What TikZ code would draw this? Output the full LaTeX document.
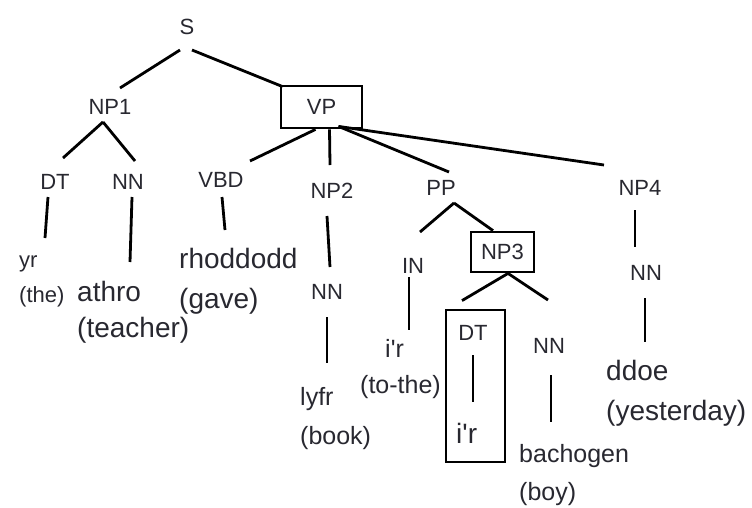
\documentclass[tikz,border=0pt]{standalone}
\usepackage{fontspec}
\setmainfont{Liberation Sans}
\usepackage{tikz}
\usetikzlibrary{positioning}
\definecolor{ink}{RGB}{40,40,48}

\begin{document}
\begin{tikzpicture}[x=1pt, y=-1pt,
    cat/.style={font=\fontsize{22}{26}\selectfont, inner sep=0pt, text=ink},
    word/.style={font=\fontsize{28}{34}\selectfont, inner sep=0pt, anchor=base west, text=ink},
    midword/.style={font=\fontsize{25}{30}\selectfont, inner sep=0pt, anchor=base west, text=ink},
    smallword/.style={font=\fontsize{22}{26}\selectfont, inner sep=0pt, anchor=base west, text=ink},
    box/.style={draw, line width=2.8pt, inner sep=0pt},
    branch/.style={line width=2.8pt}]
    \useasboundingbox (0,0) rectangle (752,507);

    % categories
    \node[cat] (S) at (187,27) {S};
    \node[cat] (NP1) at (110,107) {NP1};
    \node[cat, box, minimum width=81pt, minimum height=42pt] (VP) at (321.5,107) {VP};
    \node[cat] (DT1) at (55,182) {DT};
    \node[cat] (NN1) at (128,182) {NN};
    \node[cat] (VBD) at (221,180) {VBD};
    \node[cat] (NP2) at (332,191) {NP2};
    \node[cat] (PP) at (441,188) {PP};
    \node[cat] (NP4) at (640,188) {NP4};
    \node[cat] (NN2) at (327,292) {NN};
    \node[cat] (IN) at (413,266) {IN};
    \node[cat, box, minimum width=63pt, minimum height=40pt] (NP3) at (502.5,252) {NP3};
    \node[box, minimum width=59pt, minimum height=152pt] (det) at (475.5,386) {};
    \node[cat] (DT2) at (473,333) {DT};
    \node[cat] (NN3) at (549,346) {NN};
    \node[cat] (NN4) at (646,273) {NN};

    % words and glosses
    \node[smallword] (yr) at (19,267) {yr};
    \node[smallword] (the) at (19,302) {(the)};
    \node[word] (athro) at (77,301) {athro};
    \node[word] (teacher) at (77,337) {(teacher)};
    \node[word] (rhoddodd) at (179,268) {rhoddodd};
    \node[word] (gave) at (179,308) {(gave)};
    \node[midword] (lyfr) at (300,405) {lyfr};
    \node[midword] (book) at (300,444) {(book)};
    \node[midword] (ir1) at (385,357) {i\textquotesingle r};
    \node[midword] (tothe) at (360,393) {(to-the)};
    \node[word] (ir2) at (456,443) {i\textquotesingle r};
    \node[midword] (bachogen) at (519,462) {bachogen};
    \node[midword] (boy) at (519,500) {(boy)};
    \node[word] (ddoe) at (606,380) {ddoe};
    \node[word] (yesterday) at (606,420) {(yesterday)};

    % branches
    \draw[branch] ([shift={(-7,23)}]S.center) -- ([shift={(10,-19)}]NP1.center);
    \draw[branch] ([shift={(5,23)}]S.center) -- ([shift={(3,2)}]VP.north west);
    \draw[branch] ([shift={(-7,15)}]NP1.center) -- ([shift={(8,-24)}]DT1.center);
    \draw[branch] ([shift={(-7,15)}]NP1.center) -- ([shift={(7,-21)}]NN1.center);
    \draw[branch] ([shift={(-7,15)}]DT1.center) -- ([shift={(26,-29)}]yr.base west);
    \draw[branch] ([shift={(4,15)}]NN1.center) -- ([shift={(53,-39)}]athro.base west);
    \draw[branch] ([shift={(-6,0)}]VP.south) -- ([shift={(29,-19)}]VBD.center);
    \draw[branch] ([shift={(1,17)}]VBD.center) -- ([shift={(46,-38)}]rhoddodd.base west);
    \draw[branch] ([shift={(8,0)}]VP.south) -- ([shift={(-2,-26)}]NP2.center);
    \draw[branch] ([shift={(-5,25)}]NP2.center) -- ([shift={(3,-25)}]NN2.center);
    \draw[branch] ([shift={(0,25)}]NN2.center) -- ([shift={(27,-42)}]lyfr.base west);
    \draw[branch] ([shift={(17,-3)}]VP.south) -- ([shift={(8,-16)}]PP.center);
    \draw[branch] ([shift={(17,-3)}]VP.south) -- ([shift={(-36,-23)}]NP4.center);
    \draw[branch] ([shift={(13,15)}]PP.center) -- ([shift={(7,-34)}]IN.center);
    \draw[branch] ([shift={(13,15)}]PP.center) -- ([shift={(-9.5,0)}]NP3.north);
    \draw[branch] ([shift={(-4,11)}]IN.center) -- ([shift={(24,-27)}]ir1.base west);
    \draw[branch] ([shift={(5.5,0)}]NP3.south) -- ([shift={(-13.5,-8)}]det.north);
    \draw[branch] ([shift={(5.5,0)}]NP3.south) -- ([shift={(-1,-46)}]NN3.center);
    \draw[branch] ([shift={(0,22)}]DT2.center) -- ([shift={(17,-41)}]ir2.base west);
    \draw[branch] ([shift={(2,29)}]NN3.center) -- ([shift={(32,-40)}]bachogen.base west);
    \draw[branch] ([shift={(-5,22)}]NP4.center) -- ([shift={(-11,-26)}]NN4.center);
    \draw[branch] ([shift={(-1,25)}]NN4.center) -- ([shift={(39,-38)}]ddoe.base west);
\end{tikzpicture}
\end{document}
